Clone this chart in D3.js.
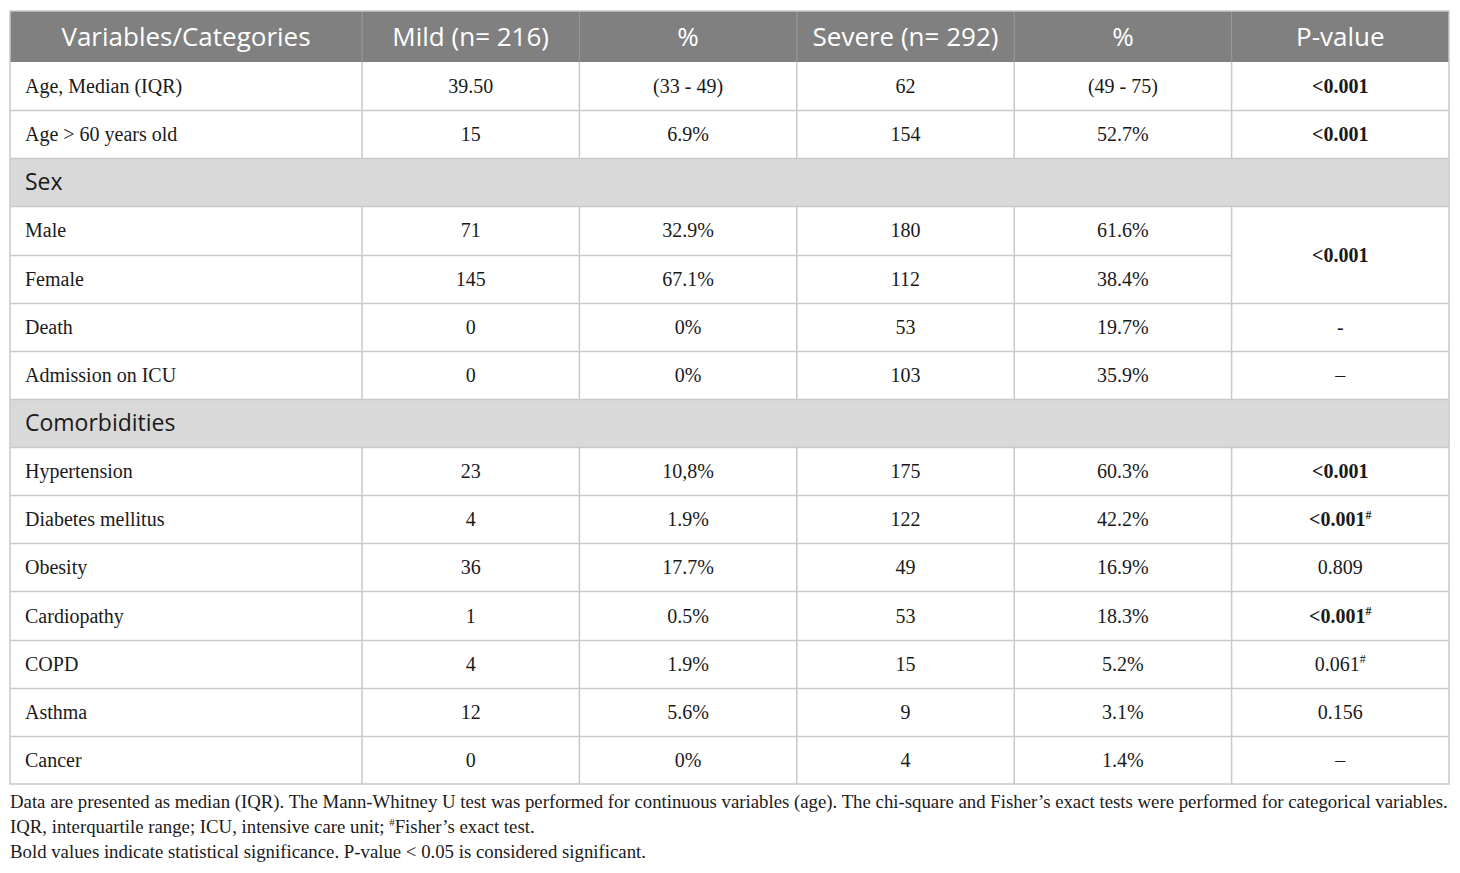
<!DOCTYPE html>
<html>
<head>
<meta charset="utf-8">
<script src="https://cdn.jsdelivr.net/npm/d3@7"></script>
<style>
  body { margin: 0; background: #fff; }
  svg { display: block; }
</style>
</head>
<body>
<svg id="chart" width="1460" height="873"></svg>
<script>
// column headers
const headers = ["Variables/Categories", "Mild (n= 216)", "%", "Severe (n= 292)", "%", "P-value"];

// row labels ("section" rows are the grey ones)
const rowLabels = ["Age, Median (IQR)", "Age > 60 years old", "Sex", "Male", "Female", "Death",
  "Admission on ICU", "Comorbidities", "Hypertension", "Diabetes mellitus", "Obesity",
  "Cardiopathy", "COPD", "Asthma", "Cancer"];
const sectionRows = ["Sex", "Comorbidities"];

const mildN = ["39.50", "15", "", "71", "145", "0", "0", "", "23", "4", "36", "1", "4", "12", "0"];
const mildPct = ["(33 - 49)", "6.9%", "", "32.9%", "67.1%", "0%", "0%", "", "10,8%", "1.9%", "17.7%", "0.5%", "1.9%", "5.6%", "0%"];
const severeN = ["62", "154", "", "180", "112", "53", "103", "", "175", "122", "49", "53", "15", "9", "4"];
const severePct = ["(49 - 75)", "52.7%", "", "61.6%", "38.4%", "19.7%", "35.9%", "", "60.3%", "42.2%", "16.9%", "18.3%", "5.2%", "3.1%", "1.4%"];
// p-values: null = covered by the merged cell above
const pValues = ["<0.001", "<0.001", "", "<0.001", null, "-", "\u2013", "", "<0.001", "<0.001", "0.809", "<0.001", "0.061", "0.156", "\u2013"];
const pBold = [true, true, false, true, false, false, false, false, true, true, false, true, false, false, false];
const pFisher = [false, false, false, false, false, false, false, false, false, true, false, true, true, false, false];
const pSpan = [1, 1, 1, 2, 0, 1, 1, 1, 1, 1, 1, 1, 1, 1, 1];

const footnotes = [
  "Data are presented as median (IQR). The Mann-Whitney U test was performed for continuous variables (age). The chi-square and Fisher\u2019s exact tests were performed for categorical variables.",
  "IQR, interquartile range; ICU, intensive care unit; #Fisher\u2019s exact test.",
  "Bold values indicate statistical significance. P-value < 0.05 is considered significant."
];

const svg = d3.select("#chart");
const serif = "'Liberation Serif', 'DejaVu Serif', serif";
const sans = "'Open Sans', 'Noto Sans', sans-serif";
const gridCol = "#c9c9c9";
const bodySize = 20;

// column edges: first column is wide, the rest equal
const x = d3.scaleLinear().domain([0, 1, 6]).range([10, 362, 1449]);
const y = d3.scaleBand().domain(d3.range(rowLabels.length)).range([62, 784]);
const headTop = 11;

// header
svg.append("rect")
  .attr("x", x(0)).attr("y", headTop)
  .attr("width", x(6) - x(0)).attr("height", y(0) - headTop)
  .attr("fill", "#808080");

svg.selectAll(".hd")
  .data(headers)
  .enter()
  .append("text")
  .attr("x", (d, i) => (x(i) + x(i + 1)) / 2)
  .attr("y", (headTop + y(0)) / 2)
  .attr("dy", "0.36em")
  .attr("text-anchor", "middle")
  .attr("fill", "#fff")
  .attr("font-family", sans)
  .attr("font-size", 26)
  .text(d => d);

// header separators
svg.selectAll(".hsep")
  .data(d3.range(1, 6))
  .enter()
  .append("line")
  .attr("x1", i => x(i)).attr("x2", i => x(i))
  .attr("y1", headTop).attr("y2", y(0))
  .attr("stroke", "#9a9a9a").attr("stroke-width", 1);

// section backgrounds
rowLabels.forEach((lab, r) => {
  if (sectionRows.includes(lab)) {
    svg.append("rect")
      .attr("x", x(0)).attr("y", y(r))
      .attr("width", x(6) - x(0)).attr("height", y.bandwidth())
      .attr("fill", "#d9d9d9");
  }
});

// horizontal grid lines (stop before the p-value column inside a merged cell)
d3.range(1, rowLabels.length).forEach(r => {
  const merged = pSpan[r - 1] === 2;
  svg.append("line")
    .attr("x1", x(0)).attr("x2", merged ? x(5) : x(6))
    .attr("y1", Math.round(y(r)) + 0.5).attr("y2", Math.round(y(r)) + 0.5)
    .attr("stroke", gridCol).attr("stroke-width", 1.5);
});

// vertical grid lines (skip section rows)
rowLabels.forEach((lab, r) => {
  if (sectionRows.includes(lab)) return;
  d3.range(1, 6).forEach(c => {
    svg.append("line")
      .attr("x1", x(c)).attr("x2", x(c))
      .attr("y1", y(r)).attr("y2", y(r) + y.bandwidth())
      .attr("stroke", gridCol).attr("stroke-width", 1.5);
  });
});

// outer border
svg.append("rect")
  .attr("x", x(0)).attr("y", headTop)
  .attr("width", x(6) - x(0)).attr("height", y(rowLabels.length - 1) + y.bandwidth() - headTop)
  .attr("fill", "none")
  .attr("stroke", gridCol).attr("stroke-width", 1.5);

// cells
const cy = r => y(r) + y.bandwidth() / 2;

rowLabels.forEach((lab, r) => {
  const sec = sectionRows.includes(lab);
  svg.append("text")
    .attr("x", x(0) + 15)
    .attr("y", cy(r))
    .attr("dy", "0.35em")
    .attr("font-family", sec ? sans : serif)
    .attr("font-size", sec ? 23 : bodySize)
    .attr("fill", "#1a1a1a")
    .text(lab);
  if (sec) return;

  [mildN[r], mildPct[r], severeN[r], severePct[r]].forEach((v, i) => {
    svg.append("text")
      .attr("x", (x(i + 1) + x(i + 2)) / 2)
      .attr("y", cy(r))
      .attr("dy", "0.35em")
      .attr("text-anchor", "middle")
      .attr("font-family", serif)
      .attr("font-size", bodySize)
      .attr("fill", "#1a1a1a")
      .text(v);
  });

  if (pValues[r] !== null) {
    const py = pSpan[r] === 2 ? y(r + 1) : cy(r);
    const t = svg.append("text")
      .attr("x", (x(5) + x(6)) / 2)
      .attr("y", py)
      .attr("dy", "0.35em")
      .attr("text-anchor", "middle")
      .attr("font-family", serif)
      .attr("font-size", bodySize)
      .attr("font-weight", pBold[r] ? "bold" : "normal")
      .attr("fill", "#1a1a1a");
    t.append("tspan").text(pValues[r]);
    if (pFisher[r]) {
      t.append("tspan")
        .attr("font-size", 12)
        .attr("dy", "-0.6em")
        .text("#");
    }
  }
});

// footnotes
const fy = d3.scaleLinear().domain([0, 2]).range([808, 858]);
footnotes.forEach((f, i) => {
  const t = svg.append("text")
    .attr("x", x(0))
    .attr("y", fy(i))
    .attr("font-family", serif)
    .attr("font-size", 18.8)
    .attr("fill", "#1a1a1a");
  const parts = f.split("#");
  t.append("tspan").text(parts[0]);
  if (parts.length > 1) {
    t.append("tspan").attr("font-size", 11).attr("y", fy(i) - 7).text("#");
    t.append("tspan").attr("y", fy(i)).text(parts[1]);
  }
});
</script>
</body>
</html>
